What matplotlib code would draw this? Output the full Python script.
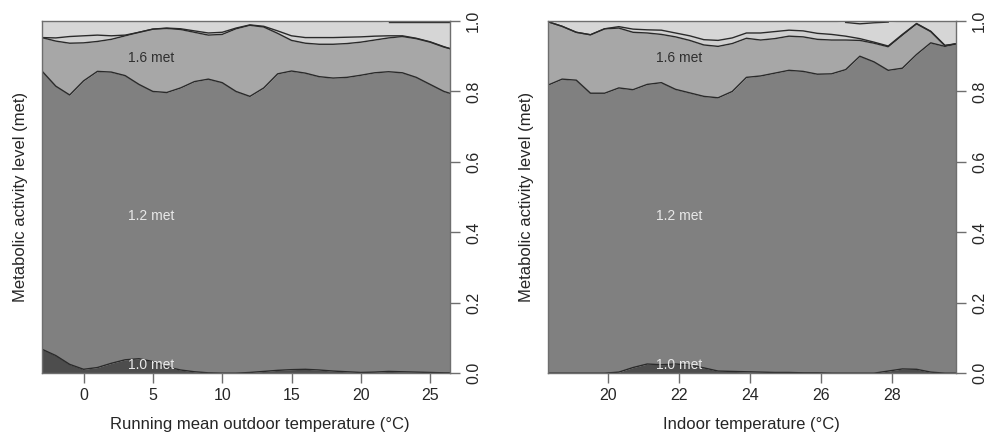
import numpy as np
import matplotlib.pyplot as plt

plt.rcParams['font.family'] = ['Liberation Sans', 'DejaVu Sans']

levels = ["1.0 met", "1.2 met", "1.6 met", "2.0 met", "2.4 met", "3.0 met"]
level_colors = ["#4d4d4d", "#808080", "#a7a7a7", "#d0d0d0", "#d6d6d6", "#dcdcdc"]

# left panel: running mean outdoor temperature, cumulative proportions (top of each level)
out_temp = [-3, -2, -1, 0, 1, 2, 3, 4, 5, 6, 7, 8, 9, 10, 11, 12, 13, 14, 15, 16,
            17, 18, 19, 20, 21, 22, 23, 24, 25, 26, 26.4]
out_b1 = [0.068, 0.050, 0.025, 0.011, 0.016, 0.028, 0.038, 0.041, 0.033, 0.018, 0.009,
          0.004, 0.001, 0.0, 0.0, 0.002, 0.005, 0.008, 0.010, 0.011, 0.009, 0.006, 0.004,
          0.002, 0.003, 0.005, 0.004, 0.003, 0.002, 0.001, 0.001]
out_b2 = [0.858, 0.815, 0.790, 0.830, 0.857, 0.855, 0.845, 0.820, 0.800, 0.797, 0.810,
          0.828, 0.835, 0.825, 0.800, 0.786, 0.810, 0.850, 0.858, 0.852, 0.842, 0.838,
          0.840, 0.846, 0.853, 0.856, 0.853, 0.840, 0.820, 0.800, 0.795]
out_b3 = [0.953, 0.943, 0.937, 0.938, 0.942, 0.948, 0.958, 0.968, 0.977, 0.979, 0.976,
          0.968, 0.960, 0.962, 0.978, 0.988, 0.983, 0.965, 0.945, 0.937, 0.934, 0.934,
          0.936, 0.940, 0.946, 0.952, 0.956, 0.950, 0.940, 0.926, 0.922]
out_b4 = [0.953, 0.952, 0.956, 0.958, 0.960, 0.958, 0.960, 0.968, 0.977, 0.980, 0.978,
          0.972, 0.966, 0.968, 0.980, 0.989, 0.985, 0.972, 0.958, 0.953, 0.953, 0.953,
          0.954, 0.955, 0.957, 0.958, 0.958, 0.951, 0.941, 0.927, 0.922]
out_b5 = [1.0, 1.0, 1.0, 1.0, 1.0, 1.0, 1.0, 1.0, 1.0, 1.0, 1.0, 1.0, 1.0, 1.0, 1.0, 1.0,
          1.0, 1.0, 1.0, 1.0, 1.0, 1.0, 1.0, 1.0, 1.0, 0.997, 0.997, 0.997, 0.997, 0.997, 0.997]

# right panel: indoor temperature
in_temp = [18.3, 18.7, 19.1, 19.5, 19.9, 20.3, 20.7, 21.1, 21.5, 21.9, 22.3, 22.7, 23.1,
           23.5, 23.9, 24.3, 24.7, 25.1, 25.5, 25.9, 26.3, 26.7, 27.1, 27.5, 27.9, 28.3,
           28.7, 29.1, 29.5, 29.8]
in_b1 = [0.0, 0.0, 0.0, 0.0, 0.0, 0.003, 0.016, 0.026, 0.024, 0.026, 0.023, 0.015, 0.006,
         0.005, 0.004, 0.003, 0.002, 0.002, 0.001, 0.001, 0.0, 0.0, 0.0, 0.0, 0.006, 0.012,
         0.011, 0.003, 0.0, 0.0]
in_b2 = [0.818, 0.835, 0.832, 0.795, 0.795, 0.810, 0.805, 0.820, 0.825, 0.806, 0.796, 0.786,
         0.782, 0.800, 0.840, 0.844, 0.852, 0.860, 0.857, 0.849, 0.850, 0.862, 0.900, 0.884,
         0.860, 0.866, 0.905, 0.938, 0.928, 0.935]
in_b3 = [0.998, 0.985, 0.968, 0.961, 0.978, 0.980, 0.968, 0.966, 0.962, 0.955, 0.945, 0.932,
         0.928, 0.936, 0.951, 0.946, 0.950, 0.957, 0.955, 0.948, 0.946, 0.946, 0.945, 0.937,
         0.927, 0.960, 0.992, 0.970, 0.930, 0.935]
in_b4 = [0.998, 0.985, 0.968, 0.961, 0.978, 0.984, 0.977, 0.975, 0.974, 0.966, 0.958, 0.947,
         0.945, 0.952, 0.966, 0.966, 0.970, 0.974, 0.972, 0.965, 0.962, 0.957, 0.950, 0.940,
         0.929, 0.962, 0.993, 0.971, 0.931, 0.935]
in_b5 = [1.0, 1.0, 1.0, 1.0, 1.0, 1.0, 1.0, 1.0, 1.0, 1.0, 1.0, 1.0, 1.0, 1.0, 1.0, 1.0,
         1.0, 1.0, 1.0, 1.0, 1.0, 0.996, 0.992, 0.995, 0.997, 1.0, 1.0, 1.0, 1.0, 1.0]

out_ticks = [0, 5, 10, 15, 20, 25]
in_ticks = [20, 22, 24, 26, 28]
y_ticks = [0.0, 0.2, 0.4, 0.6, 0.8, 1.0]

line_col = "#2a2a2a"
axis_col = "#6e6e6e"
text_col = "#262626"


def draw_panel(ax, x, bounds, xlim, xticks, xlabel, label_x, xlabel_pos):
    x = np.array(x)
    edges = [np.zeros(len(x))] + [np.array(b) for b in bounds] + [np.ones(len(x))]
    for i in range(len(edges) - 1):
        ax.fill_between(x, edges[i], edges[i + 1], color=level_colors[i], lw=0)
    for b in edges[1:-1]:
        shown = np.where(b >= 0.9995, np.nan, b)
        ax.plot(x, shown, color=line_col, lw=1.0)
    ax.set_xlim(xlim)
    ax.set_ylim(0, 1)
    ax.set_xticks(xticks)
    ax.set_yticks(y_ticks)
    ax.set_yticklabels([f"{v:.1f}" for v in y_ticks], rotation=90, va="center")
    ax.yaxis.tick_right()
    ax.tick_params(axis="both", colors=axis_col, labelcolor=text_col, labelsize=11.5,
                   length=7, width=1)
    ax.tick_params(axis="y", pad=5)
    for s in ax.spines.values():
        s.set_color(axis_col)
        s.set_linewidth(1.0)
    ax.set_xlabel(xlabel, fontsize=12, color=text_col)
    ax.xaxis.set_label_coords(xlabel_pos, -0.125)
    ax.set_ylabel("Metabolic activity level (met)", fontsize=12, color=text_col, labelpad=10)
    ax.yaxis.set_label_position("left")
    ax.text(label_x, 0.895, levels[2], fontsize=10, color="#303030", ha="center", va="center")
    ax.text(label_x, 0.446, levels[1], fontsize=10, color="#e8e8e8", ha="center", va="center")
    ax.text(label_x, 0.022, levels[0], fontsize=10, color="#e8e8e8", ha="center", va="center")


fig = plt.figure(figsize=(9.99, 4.38), dpi=100)
ax1 = fig.add_axes([0.042, 0.148, 0.408, 0.804])
ax2 = fig.add_axes([0.5485, 0.148, 0.408, 0.804])

draw_panel(ax1, out_temp, [out_b1, out_b2, out_b3, out_b4, out_b5], (-3.0, 26.4),
           out_ticks, "Running mean outdoor temperature (°C)", 4.9, 0.534)
draw_panel(ax2, in_temp, [in_b1, in_b2, in_b3, in_b4, in_b5], (18.3, 29.8),
           in_ticks, "Indoor temperature (°C)", 22.0, 0.5)

fig.savefig("out.png", dpi=100)
